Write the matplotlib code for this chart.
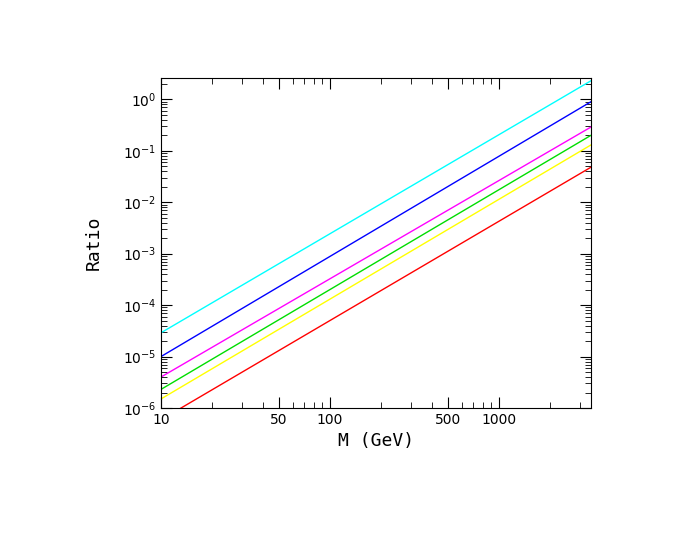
import matplotlib
matplotlib.use("Agg")
import matplotlib.pyplot as plt
from matplotlib.ticker import LogLocator, FixedLocator, FixedFormatter, NullFormatter

M = [10, 3500]
cyan = [2.9e-5, 2.3]
blue = [1.0e-5, 0.9]
magenta = [4.0e-6, 0.29]
green = [2.3e-6, 0.2]
yellow = [1.5e-6, 0.13]
red = [5.9e-7, 0.048]
xticks = [10, 50, 100, 500, 1000]
xlabels = ["10", "50", "100", "500", "1000"]

fig = plt.figure(figsize=(6.92, 5.35), dpi=100)
ax = fig.add_axes([161/692, 1-408/535, 430/692, 330/535])
for y, c in [(cyan, "cyan"), (blue, "blue"), (magenta, "magenta"),
             (green, "#00dd00"), (yellow, "yellow"), (red, "red")]:
    ax.plot(M, y, color=c, lw=1)
ax.set_xscale("log"); ax.set_yscale("log")
ax.set_xlim(10, 3500); ax.set_ylim(1e-6, 2.6)
ax.xaxis.set_major_locator(FixedLocator(xticks))
ax.xaxis.set_major_formatter(FixedFormatter(xlabels))
ax.xaxis.set_minor_locator(LogLocator(subs=range(2, 10)))
ax.xaxis.set_minor_formatter(NullFormatter())
ax.yaxis.set_major_locator(LogLocator(numticks=20))
ax.yaxis.set_minor_locator(LogLocator(subs=range(2, 10), numticks=20))
ax.yaxis.set_minor_formatter(NullFormatter())
ax.tick_params(which="both", direction="in", top=True, right=True, labelsize=10)
ax.tick_params(which="major", length=8)
ax.tick_params(which="minor", length=4)
ax.set_xlabel("M (GeV)", family="DejaVu Sans Mono", fontsize=13)
ax.set_ylabel("Ratio", family="DejaVu Sans Mono", fontsize=13, labelpad=14)
fig.savefig("out.png", dpi=100)
